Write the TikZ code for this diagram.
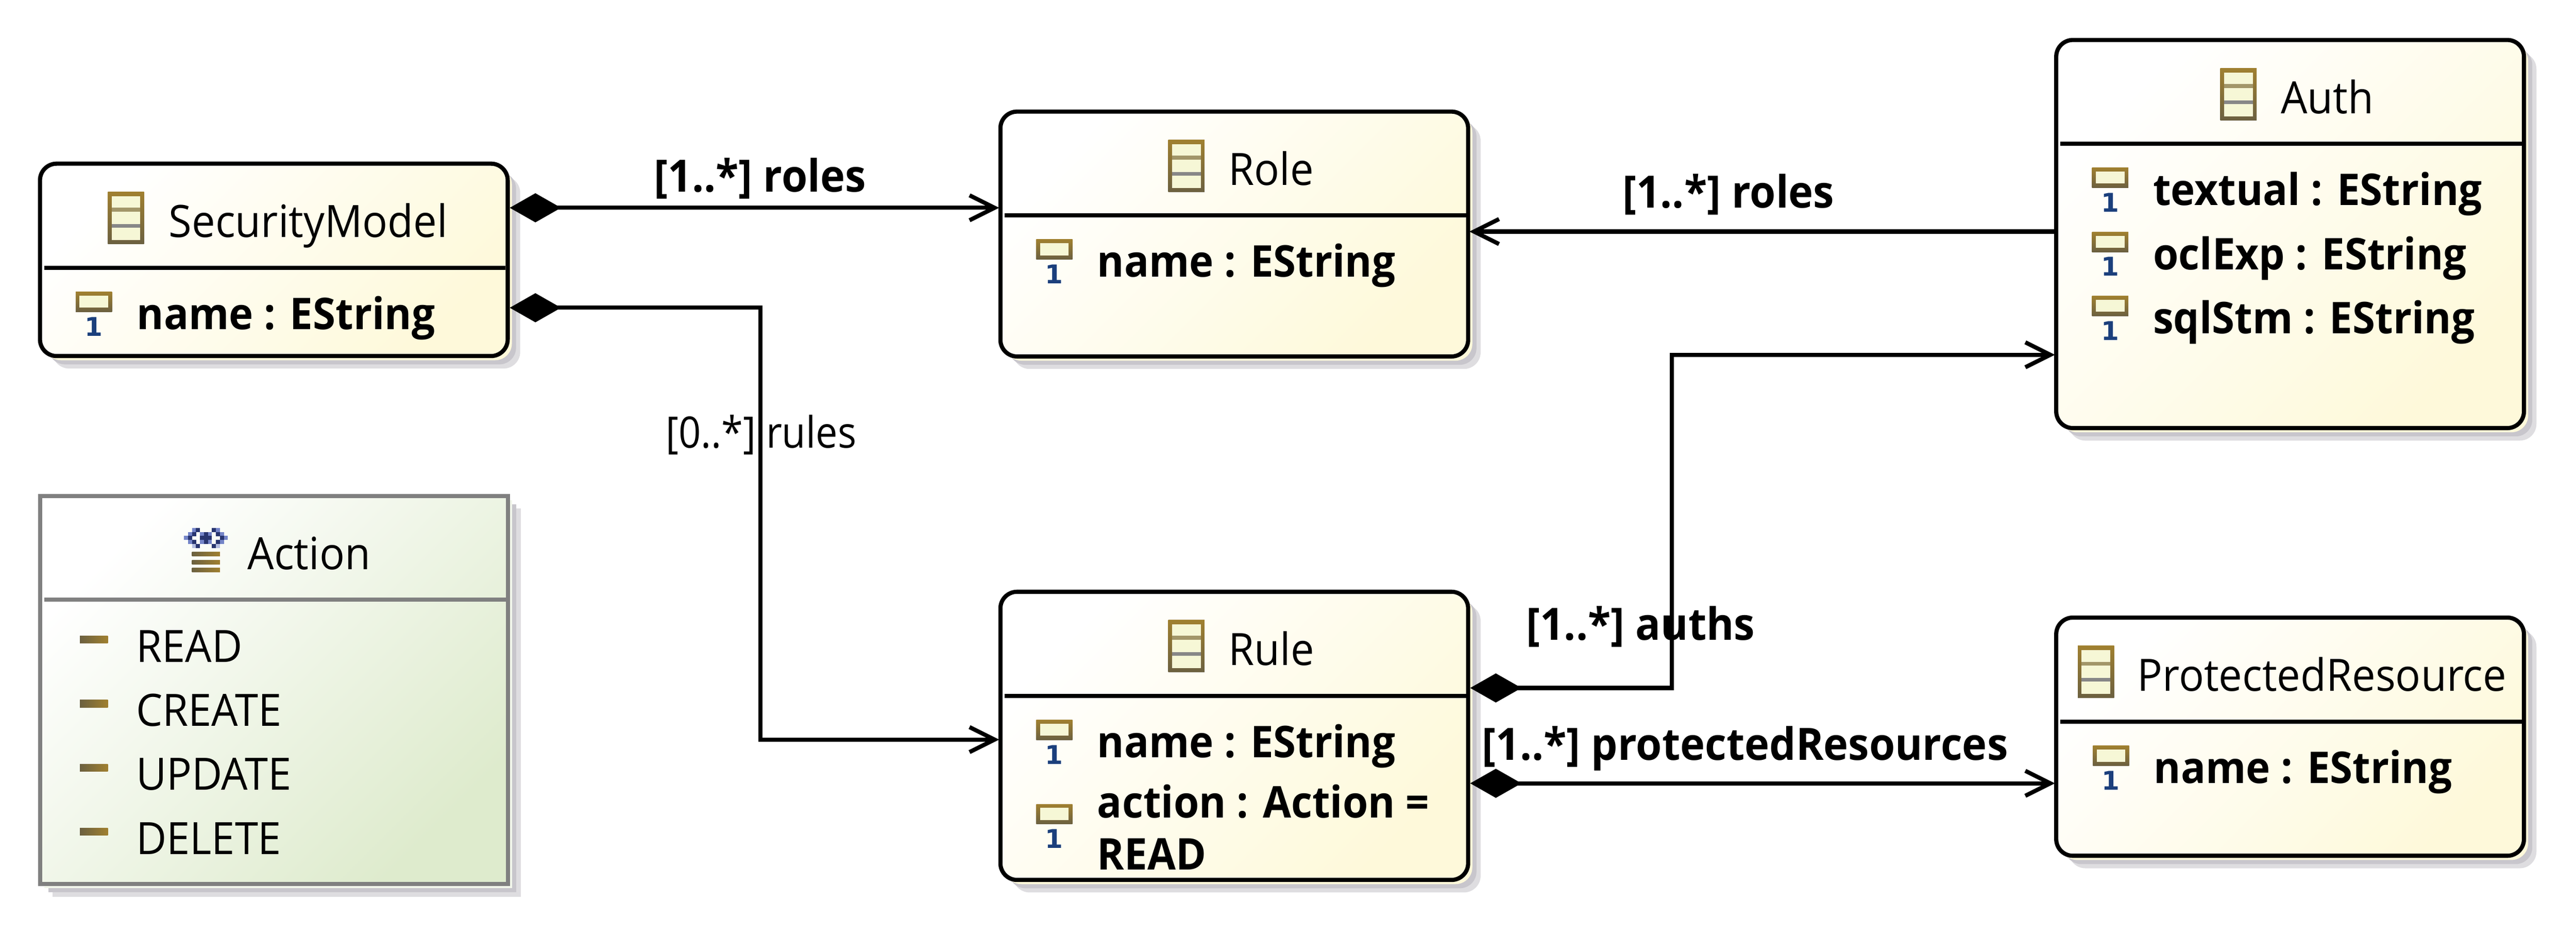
\documentclass[tikz,border=0pt]{standalone}
\usepackage{fontspec}
\setmainfont{Open Sans}[FakeStretch=0.94]
\newfontfamily\narrowfont{Open Sans}[FakeStretch=0.90]
\newfontfamily\digitfont{DejaVu Sans}
\usetikzlibrary{arrows.meta,shadows}
\definecolor{classfill}{HTML}{FEF9DA}
\definecolor{enumfill}{HTML}{DEEBCD}
\definecolor{shadelight}{HTML}{DEDDE0}
\definecolor{shadedark}{HTML}{C8C6CC}
\definecolor{icontop}{HTML}{A08030}
\definecolor{iconbot}{HTML}{6B6040}
\definecolor{iconin}{HTML}{F6F7D6}
\definecolor{onecol}{HTML}{1B3F7C}
\definecolor{enumblue}{HTML}{7484C8}
\definecolor{enumpale}{HTML}{B4BDE0}
\definecolor{enumdark}{HTML}{28356F}
\tikzset{
  classbox/.style={draw=black,line width=.10cm,rounded corners=.4cm,anchor=north west,inner sep=0,outer sep=0,
    general shadow={fill=shadelight,shadow xshift=.30cm,shadow yshift=-.30cm},
    general shadow={fill=shadedark,shadow xshift=.20cm,shadow yshift=-.20cm},
    general shadow={fill=classfill,shadow xshift=.10cm,shadow yshift=-.10cm},
    top color=white,bottom color=classfill,shading angle=45},
  enumbox/.style={draw=black!50,line width=.10cm,anchor=north west,inner sep=0,outer sep=0,
    general shadow={fill=shadelight,shadow xshift=.30cm,shadow yshift=-.30cm},
    general shadow={fill=shadedark,shadow xshift=.20cm,shadow yshift=-.20cm},
    general shadow={fill=enumfill!40,shadow xshift=.10cm,shadow yshift=-.10cm},
    top color=white,bottom color=enumfill,shading angle=45},
  title/.style={anchor=base west,inner sep=0,font=\fontsize{1.07cm}{1.25cm}\selectfont},
  attr/.style={anchor=base west,inner sep=0,align=left,font=\fontsize{1.05cm}{1.25cm}\selectfont\bfseries},
  lbl/.style={anchor=base west,inner sep=0,font=\fontsize{1.07cm}{1.25cm}\selectfont\bfseries},
  rulelbl/.style={anchor=base west,inner sep=0,font=\narrowfont\fontsize{1.04cm}{1.25cm}\selectfont},
  sep/.style={line width=.10cm},
  conn/.style={line width=.10cm,shorten >=.03cm,-{Straight Barb[length=.6cm,width=.6cm,sharp]}},
  compo/.style={conn,shorten <=.05cm,{Diamond[length=1.23cm,width=.70cm]}-{Straight Barb[length=.6cm,width=.6cm,sharp]}},
}
% icon of a class, at left top corner
\newcommand{\classicon}[2]{
  \shade[top color=icontop,bottom color=iconbot] (#1,#2) rectangle ++(.87,1.25);
  \fill[iconin] (#1+.09,#2+.10) rectangle ++(.69,1.05);
  \fill[icontop!50!iconin!80!black] (#1+.09,#2+.38) rectangle ++(.69,.09);
  \fill[black!47] (#1+.09,#2+.77) rectangle ++(.69,.09);
}
% attribute: icon with its small 1, then the text
\newcommand{\attrow}[5]{
  \shade[top color=icontop,bottom color=iconbot] (#1,#2) rectangle ++(.87,.48);
  \fill[iconin] (#1+.09,#2+.09) rectangle ++(.69,.29);
  \node[anchor=base,inner sep=0,text=onecol,font=\digitfont\bfseries\fontsize{.62cm}{.62cm}\selectfont] (#5one) at (#1+.43,#2+1.06) {1};
  \node[attr] (#5) at (#1+1.46,#2+.90+#4) {#3};
}
\newcommand{\literalrow}[3]{
  \shade[left color=iconbot,right color=icontop] (1.92,#1-.09) rectangle ++(.67,.18);
  \node[title] (#3) at (3.26,#2) {#3};
}
\begin{document}
\begin{tikzpicture}[x=1cm,y=-1cm]
  \useasboundingbox (0,0) rectangle (61.85,22.47);
  % classes
  \node[classbox,minimum width=11.23cm,minimum height=4.62cm] (SecurityModel) at (.96,3.93) {};
  \node[classbox,minimum width=11.23cm,minimum height=5.88cm] (Role) at (24.02,2.68) {};
  \node[classbox,minimum width=11.23cm,minimum height=9.32cm] (Auth) at (49.37,.96) {};
  \node[classbox,minimum width=11.23cm,minimum height=6.92cm] (Rule) at (24.02,14.21) {};
  \node[classbox,minimum width=11.23cm,minimum height=5.72cm] (ProtectedResource) at (49.37,14.83) {};
  \node[enumbox,minimum width=11.24cm,minimum height=9.32cm] (Action) at (.96,11.91) {};
  % compartments
  \draw[sep] (1.06,6.43) -- (12.14,6.43);
  \draw[sep] (24.12,5.17) -- (35.20,5.17);
  \draw[sep] (49.47,3.45) -- (60.56,3.45);
  \draw[sep] (24.12,16.71) -- (35.20,16.71);
  \draw[sep] (49.47,17.33) -- (60.56,17.33);
  \draw[sep,black!50] (1.06,14.40) -- (12.15,14.40);
  % SecurityModel
  \classicon{2.59}{4.61}
  \node[title] (SecurityModelName) at (4.05,5.70) {SecurityModel};
  \attrow{1.82}{7.01}{name : EString}{0}{smName}
  % Role
  \classicon{28.05}{3.36}
  \node[title] (RoleName) at (29.49,4.45) {Role};
  \attrow{24.88}{5.75}{name : EString}{0}{roleAttr}
  % Auth
  \classicon{53.31}{1.64}
  \node[title] (AuthName) at (54.76,2.73) {Auth};
  \attrow{50.23}{4.03}{textual : EString}{0}{authTextual}
  \attrow{50.23}{5.57}{oclExp : EString}{0}{authOcl}
  \attrow{50.23}{7.11}{sqlStm : EString}{0}{authSql}
  % Rule
  \classicon{28.05}{14.89}
  \node[title] (RuleName) at (29.49,15.98) {Rule};
  \attrow{24.88}{17.29}{name : EString}{0}{ruleName}
  \attrow{24.88}{19.31}{action : Action =\\READ}{.68}{ruleAction}
  % ProtectedResource
  \classicon{49.89}{15.51}
  \node[title] (ProtectedName) at (51.31,16.60) {ProtectedResource};
  \attrow{50.25}{17.91}{name : EString}{0}{prName}
  % Action
  \node[title] (ActionName) at (5.94,13.68) {Action};
  \foreach \liney in {13.25,13.45,13.64}
    \shade[left color=iconbot,right color=icontop] (4.61,\liney) rectangle ++(.67,.10);
  \foreach \c/\r in {2/0,8/0,1/1,4/1,6/1,9/1,0/2,10/2,1/3,4/3,6/3,9/3}
    \fill[enumblue] (4.42+\c*.0955,12.68+\r*.0955) rectangle ++(.097,.097);
  \foreach \c/\r in {2/4,8/4}
    \fill[enumpale] (4.42+\c*.0955,12.68+\r*.0955) rectangle ++(.097,.097);
  \foreach \c/\r in {3/0,7/0,2/1,5/1,8/1,1/2,4/2,5/2,6/2,9/2,2/3,5/3,8/3,3/4,7/4}
    \fill[enumdark] (4.42+\c*.0955,12.68+\r*.0955) rectangle ++(.097,.097);
  \literalrow{15.36}{15.90}{READ}
  \literalrow{16.90}{17.43}{CREATE}
  \literalrow{18.44}{18.97}{UPDATE}
  \literalrow{19.97}{20.51}{DELETE}
  % connectors
  \coordinate (rulesBend) at (18.26,12);
  \coordinate (authsBend) at (40.14,12);
  \draw[compo] ([yshift=1.25cm]SecurityModel.east) -- ([yshift=1.25cm]SecurityModel.east -| Role.west);
  \draw[compo] ([yshift=-1.15cm]SecurityModel.east) -| (rulesBend) |- ([yshift=-.09cm]Rule.west);
  \draw[conn] ([yshift=.06cm]Auth.west) -- ([yshift=.06cm]Auth.west -| Role.east);
  \draw[compo] ([yshift=1.15cm]Rule.east) -| (authsBend) |- ([yshift=-2.90cm]Auth.west);
  \draw[compo] ([yshift=-1.14cm]Rule.east) -- ([yshift=-1.14cm]Rule.east -| ProtectedResource.west);
  % labels
  \node[lbl] (smRolesLbl) at (15.70,4.61) {[1..*] roles};
  \node[lbl] (authRolesLbl) at (38.95,4.99) {[1..*] roles};
  \node[rulelbl] (smRulesLbl) at (15.98,10.76) {[0..*] rules};
  \node[lbl] (ruleAuthsLbl) at (36.64,15.37) {[1..*] auths};
  \node[lbl] (ruleResLbl) at (35.58,18.25) {[1..*] protectedResources};
\end{tikzpicture}
\end{document}
